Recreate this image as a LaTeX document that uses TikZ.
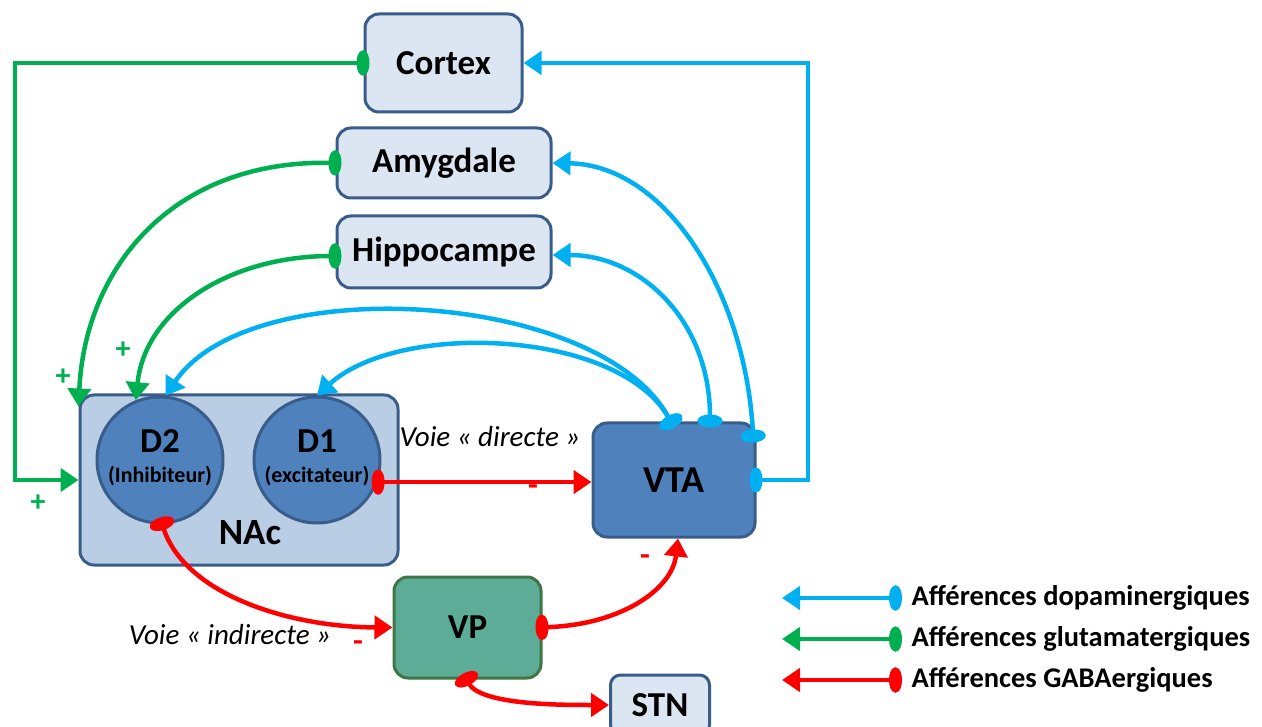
\documentclass[tikz,border=0pt]{standalone}
\usepackage{fontspec}
\setmainfont{Carlito}
\usetikzlibrary{arrows.meta}
\definecolor{dopa}{RGB}{0,176,240}
\definecolor{glu}{RGB}{0,176,80}
\definecolor{gaba}{RGB}{255,0,0}
\definecolor{boxline}{RGB}{56,93,138}
\definecolor{lightfill}{RGB}{220,230,242}
\definecolor{nacfill}{RGB}{185,205,229}
\definecolor{midblue}{RGB}{79,129,189}
\definecolor{vpfill}{RGB}{92,172,152}
\definecolor{vpline}{RGB}{62,118,70}
\begin{document}
\begin{tikzpicture}[x=1pt,y=-1pt,
  fsz/.style={font=\fontsize{#1}{#1}\selectfont\bfseries},
  box/.style={draw=boxline, line width=3pt, fill=lightfill, rounded corners=14pt, inner sep=0pt},
  circ/.style={circle, draw=boxline, line width=3pt, fill=midblue, minimum size=126pt, inner sep=0pt},
  conn/.style={line width=4.5pt, {Ellipse[length=13pt,width=25pt]}-{Triangle[length=18pt,width=23pt]}},
  dconn/.style={conn, draw=dopa},
  gconn/.style={conn, draw=glu},
  rconn/.style={conn, draw=gaba},
  lbl/.style={font=\fontsize{29}{29}\selectfont\itshape},
  plus/.style={text=glu, fsz=30},
  minus/.style={text=gaba, fsz=32},
  leg/.style={anchor=west, fsz=28.5}
]
\useasboundingbox (0,0) rectangle (1262,727);

% boxes
\node[box, minimum width=157pt, minimum height=98pt, fsz=35] (cortex) at (443.5,63) {Cortex};
\node[box, minimum width=214pt, minimum height=70pt, fsz=35] (amyg) at (444,163) {Amygdale};
\node[box, minimum width=214pt, minimum height=72pt, fsz=35] (hippo) at (444,252) {Hippocampe};
\node[box, fill=nacfill, minimum width=318pt, minimum height=170pt] (nac) at (239,480) {};
\node[circ] (d2) at (160,460) {};
\node[circ] (d1) at (317,460) {};
\node[fsz=35] (d2t) at (160,441) {D2};
\node[fsz=22] (d2s) at (160,476) {(Inhibiteur)};
\node[fsz=35] (d1t) at (317,441) {D1};
\node[fsz=22] (d1s) at (317,476) {(excitateur)};
\node[fsz=37] (nact) at (250,533) {NAc};
\node[box, fill=midblue, minimum width=162pt, minimum height=114pt, fsz=38] (vta) at (674,480) {VTA};
\node[box, draw=vpline, fill=vpfill, minimum width=147pt, minimum height=101pt, fsz=35] (vp) at (467.5,627.5) {VP};
\node[box, minimum width=99pt, minimum height=60pt, rounded corners=10pt, fsz=35] (stn) at (660,705) {STN};

% glutamatergic
\draw[gconn] ([xshift=6pt]cortex.west) -- (15,63) -- (15,480) -- (nac.west);
\draw[gconn] ([xshift=6pt]amyg.west) .. controls (170,160) and (85,270) .. ([yshift=-13pt]nac.north west);
\draw[gconn] ([xshift=6pt,yshift=-4pt]hippo.west) .. controls (230,256) and (145,310) .. (d2.112);

% dopaminergic
\coordinate (vt1) at ([yshift=-6pt]vta.north);
\coordinate (vt2) at ([xshift=36pt,yshift=-6pt]vta.north);
\coordinate (vt3) at ([xshift=-3pt,yshift=-21pt]vta.north east);
\draw[dconn] (vt1) .. controls (600,290) and (250,270) .. (d2.85);
\draw[dconn] (vt1) .. controls (620,330) and (400,320) .. (d1.north);
\draw[dconn] (vt2) .. controls (710,320) and (640,255) .. ([yshift=-3pt]hippo.east);
\draw[dconn] (vt3) .. controls (745,290) and (665,165) .. (amyg.east);
\draw[dconn] ([xshift=-7pt]vta.east) -- (808,480) -- (808,63) -- (cortex.east);

% GABAergic
\draw[rconn] ([xshift=-6pt]d1.-20) -- (d1.-20 -| vta.west);
\draw[rconn] ([yshift=7pt]d2.south) .. controls (185,595) and (290,627) .. (vp.west);
\draw[rconn] ([xshift=-7pt]vp.east) .. controls (620,625) and (672,590) .. ([xshift=4pt]vta.south);
\draw[rconn] ([xshift=-4pt,yshift=6pt]vp.south) .. controls (480,705) and (560,705) .. (stn.west);

% labels
\node[lbl] (ldir) at (490,437) {Voie « directe »};
\node[lbl] (lind) at (230,635) {Voie « indirecte »};
\node[minus] (m1) at (533,490) {-};
\node[minus] (m2) at (358,646) {-};
\node[minus] (m3) at (645,560) {-};
\node[plus] (p1) at (38,503) {+};
\node[plus] (p2) at (63,377) {+};
\node[plus] (p3) at (123,350) {+};

% legend
\coordinate (la1) at (782,598); \coordinate (lb1) at (902,598);
\coordinate (la2) at (782,639); \coordinate (lb2) at (902,639);
\coordinate (la3) at (782,680); \coordinate (lb3) at (902,680);
\draw[dconn] (lb1) -- (la1);
\draw[gconn] (lb2) -- (la2);
\draw[rconn] (lb3) -- (la3);
\node[leg] (t1) at (908,598) {Afférences dopaminergiques};
\node[leg] (t2) at (908,639) {Afférences glutamatergiques};
\node[leg] (t3) at (908,680) {Afférences GABAergiques};
\end{tikzpicture}
\end{document}
